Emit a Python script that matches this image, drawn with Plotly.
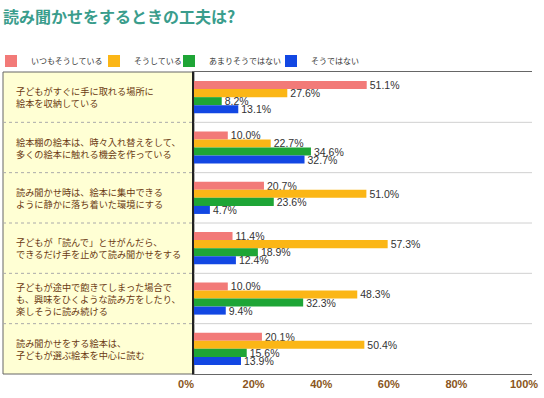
import plotly.graph_objects as go

title = "読み聞かせをするときの工夫は?"
categories = [
    "子どもがすぐに手に取れる場所に\n絵本を収納している",
    "絵本棚の絵本は、時々入れ替えをして、\n多くの絵本に触れる機会を作っている",
    "読み聞かせ時は、絵本に集中できる\nように静かに落ち着いた環境にする",
    "子どもが「読んで」とせがんだら、\nできるだけ手を止めて読み聞かせをする",
    "子どもが途中で飽きてしまった場合で\nも、興味をひくような読み方をしたり、\n楽しそうに読み続ける",
    "読み聞かせをする絵本は、\n子どもが選ぶ絵本を中心に読む",
]
series_names = ["いつもそうしている", "そうしている", "あまりそうではない", "そうではない"]
always = [51.1, 10.0, 20.7, 11.4, 10.0, 20.1]
usually = [27.6, 22.7, 51.0, 57.3, 48.3, 50.4]
rarely = [8.2, 34.6, 23.6, 18.9, 32.3, 15.6]
never = [13.1, 32.7, 4.7, 12.4, 9.4, 13.9]
tick_vals = [0, 20, 40, 60, 80, 100]
tick_text = ["0%", "20%", "40%", "60%", "80%", "100%"]

colors = ["#f27a78", "#fbb616", "#1ea536", "#1247e3"]
FONT = "Liberation Sans, Arial, Noto Sans CJK JP, sans-serif"
JFONT = "Noto Sans CJK JP, sans-serif"

W, H = 544, 398
L, R, T, B = 194, 12, 72, 24
pw = W - L - R
ph = H - T - B
def px2paper(x):
    return (x - L) / pw

legend_ids = ["legend", "legend2", "legend3", "legend4"]
legend_sq_x = [7, 110, 185, 287]

fig = go.Figure()
for name, vals, col, lid in zip(series_names, [always, usually, rarely, never], colors, legend_ids):
    fig.add_trace(go.Bar(
        y=categories, x=vals, name=name, orientation="h", legend=lid, showlegend=True,
        marker=dict(color=col, line=dict(width=0)),
        text=[f"{v:.1f}%" for v in vals], textposition="outside",
        textfont=dict(size=10.5, color="#333333", family=FONT),
        constraintext="none", cliponaxis=False,
        hoverinfo="skip",
    ))

shapes = [
    dict(type="rect", xref="paper", yref="paper", x0=px2paper(3), x1=0, y0=0, y1=1,
         fillcolor="#ffffd4", line=dict(color="#666666", width=1), layer="below"),
]
for i in range(len(categories) - 1):
    shapes.append(dict(type="line", xref="paper", yref="y", x0=px2paper(3), x1=0,
                       y0=i + 0.5, y1=i + 0.5, line=dict(color="#aaaaaa", width=1, dash="dot")))
    shapes.append(dict(type="line", xref="paper", yref="y", x0=0, x1=1,
                       y0=i + 0.5, y1=i + 0.5, line=dict(color="#d0d0d0", width=1), layer="below"))

annotations = []
for c in categories:
    annotations.append(dict(
        xref="paper", yref="y", x=px2paper(14), y=c, xanchor="left", yanchor="middle",
        text=c.replace("\n", "<br>"), align="left", showarrow=False,
        font=dict(size=9.2, color="#6b3a12", family=JFONT),
    ))

legends = {}
for lid, sx in zip(legend_ids, legend_sq_x):
    legends[lid] = dict(
        orientation="h", xref="container", yref="container",
        x=max(0, (sx - 4)) / W, y=1 - 61 / H, xanchor="left", yanchor="middle",
        font=dict(size=8, color="#333333", family=JFONT),
        itemwidth=30, indentation=-12, bgcolor="rgba(0,0,0,0)",
    )

fig.update_layout(
    width=W, height=H,
    showlegend=True,
    margin=dict(l=L, r=R, t=T, b=B, autoexpand=False),
    paper_bgcolor="white", plot_bgcolor="white",
    barmode="group", bargap=0.36, bargroupgap=0,
    title=dict(text=f"<b>{title}</b>", x=3 / W, xref="container", xanchor="left",
               y=1 - 17 / H, yref="container", yanchor="middle", pad=dict(l=0, r=0, t=0, b=0),
               font=dict(size=16, color="#3a9d8c", family=JFONT)),
    shapes=shapes, annotations=annotations,
    xaxis=dict(range=[0, 100], tickvals=tick_vals, ticktext=tick_text,
               showgrid=False, zeroline=False, showline=True, mirror=True,
               linecolor="#666666", linewidth=1, ticks="", automargin=False,
               ticklabelshift=-8,
               tickfont=dict(size=11, color="#8a5520", family="Liberation Sans, Arial, sans-serif", weight="bold")),
    yaxis=dict(autorange="reversed", showticklabels=False, showgrid=False, automargin=False,
               zeroline=False, showline=True, linecolor="#222222", linewidth=2, ticks=""),
    **legends,
)

fig.write_html("out.html", config={"displayModeBar": False},
               post_script="document.body.style.margin='0';")
